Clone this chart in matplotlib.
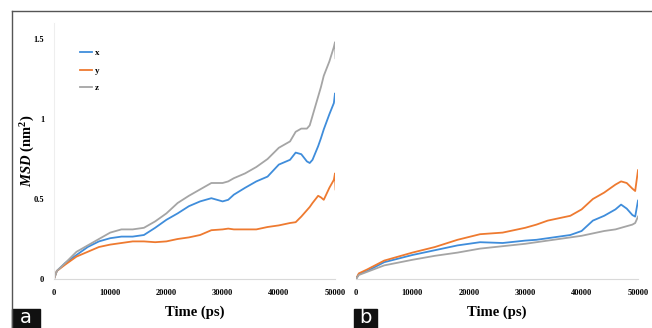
import numpy as np
import matplotlib.pyplot as plt

plt.rcParams['mathtext.fontset'] = 'custom'
plt.rcParams['mathtext.rm'] = 'Liberation Serif'
plt.rcParams['mathtext.it'] = 'Liberation Serif:italic'
plt.rcParams['mathtext.bf'] = 'Liberation Serif:bold'
plt.rcParams['mathtext.bfit'] = 'Liberation Serif:italic:bold'

# MSD along each axis, panel a
t_a = [0, 500, 2000, 4000, 6000, 8000, 10000, 12000, 14000, 16000, 18000, 20000,
       22000, 24000, 26000, 28000, 30000, 31000, 32000, 34000, 36000, 38000, 40000,
       42000, 43000, 44000, 45000, 45500, 46000, 47000, 47500, 48000, 49000, 49800,
       50000, 50100]
x_a = [0, 0.05, 0.10, 0.15, 0.20, 0.235, 0.255, 0.265, 0.265, 0.275, 0.32, 0.37,
       0.41, 0.455, 0.485, 0.505, 0.485, 0.495, 0.527, 0.57, 0.61, 0.64, 0.715,
       0.745, 0.79, 0.78, 0.735, 0.725, 0.745, 0.83, 0.88, 0.935, 1.03, 1.10,
       1.16, 1.12]
y_a = [0, 0.05, 0.09, 0.14, 0.17, 0.20, 0.215, 0.225, 0.235, 0.235, 0.23, 0.235,
       0.25, 0.26, 0.275, 0.305, 0.31, 0.315, 0.31, 0.31, 0.31, 0.325, 0.335,
       0.35, 0.355, 0.39, 0.43, 0.45, 0.475, 0.52, 0.51, 0.495, 0.57, 0.62,
       0.66, 0.56]
z_a = [0, 0.05, 0.10, 0.17, 0.21, 0.25, 0.29, 0.31, 0.31, 0.32, 0.36, 0.41,
       0.475, 0.52, 0.56, 0.60, 0.60, 0.61, 0.63, 0.66, 0.70, 0.75, 0.82,
       0.86, 0.92, 0.94, 0.94, 0.96, 1.02, 1.14, 1.20, 1.27, 1.36, 1.45,
       1.48, 1.38]

# panel b
t_b = [0, 500, 2000, 5000, 10000, 14000, 18000, 22000, 26000, 30000, 32000, 34000,
       36000, 38000, 40000, 42000, 44000, 46000, 47000, 48000, 49000, 49500, 50000]
x_b = [0, 0.03, 0.05, 0.105, 0.15, 0.18, 0.21, 0.23, 0.225, 0.24, 0.245, 0.255,
       0.265, 0.275, 0.30, 0.365, 0.395, 0.435, 0.465, 0.44, 0.40, 0.39, 0.49]
y_b = [0, 0.035, 0.06, 0.115, 0.165, 0.20, 0.245, 0.28, 0.29, 0.32, 0.34, 0.365,
       0.38, 0.395, 0.435, 0.50, 0.54, 0.59, 0.61, 0.60, 0.565, 0.55, 0.68]
z_b = [0, 0.025, 0.045, 0.085, 0.12, 0.145, 0.165, 0.19, 0.205, 0.22, 0.23, 0.24,
       0.25, 0.26, 0.27, 0.285, 0.30, 0.31, 0.32, 0.33, 0.34, 0.35, 0.39]

xticks = [0, 10000, 20000, 30000, 40000, 50000]
yticks = [0, 0.5, 1, 1.5]
yticklabels = ['0', '0.5', '1', '1.5']

blue, orange, gray = '#3f8ddb', '#ee7a30', '#a5a5a5'
serif = 'Liberation Serif'

fig = plt.figure(figsize=(6.52, 3.28), dpi=100)
W, H = 652, 328


def make_axes(x0, x1):
    ax = fig.add_axes([x0 / W, 1 - 279 / H, (x1 - x0) / W, 256 / H])
    ax.set_xlim(0, 50000)
    ax.set_ylim(0, 1.6)
    for s in ['top', 'right']:
        ax.spines[s].set_visible(False)
    ax.spines['bottom'].set_color('#d9d9d9')
    ax.spines['left'].set_color('#eeeeee')
    ax.set_xticks(xticks)
    ax.set_xticklabels([str(v) for v in xticks], fontsize=6, fontweight='bold', family=serif)
    ax.tick_params(length=0, pad=7)
    ax.set_xlabel('Time (ps)', fontsize=10.5, fontweight='bold', family=serif, labelpad=6)
    return ax


ax1 = make_axes(54, 335)
ax1.plot(t_a, x_a, color=blue, lw=1.3, label='x')
ax1.plot(t_a, y_a, color=orange, lw=1.3, label='y')
ax1.plot(t_a, z_a, color=gray, lw=1.3, label='z')
ax1.set_yticks(yticks)
ax1.set_yticklabels(yticklabels, fontsize=6, fontweight='bold', family=serif)
ax1.set_ylabel(r'$\mathbfit{MSD}\ \mathbf{(nm^2)}$', fontsize=10.5)
ax1.yaxis.set_label_coords(-0.06, 0.5)
ax1.legend(loc='upper left', bbox_to_anchor=(0.065, 0.93), frameon=False,
           handlelength=1.3, handletextpad=0.3, labelspacing=1.0,
           prop={'family': serif, 'weight': 'bold', 'size': 6.5})

ax2 = make_axes(356, 638)
ax2.spines['left'].set_visible(False)
ax2.set_yticks([])
ax2.plot(t_b, x_b, color=blue, lw=1.3)
ax2.plot(t_b, y_b, color=orange, lw=1.3)
ax2.plot(t_b, z_b, color=gray, lw=1.3)

# outer frame lines
fig.add_artist(plt.Line2D([12 / W, 1], [1 - 11 / H, 1 - 11 / H], color='#555555', lw=1))
fig.add_artist(plt.Line2D([12 / W, 12 / W], [0, 1 - 11 / H], color='#555555', lw=1))

# panel letters
for x0, x1, s in [(12, 40, 'a'), (354, 377, 'b')]:
    fig.add_artist(plt.Rectangle((x0 / W, 0), (x1 - x0) / W, 19 / H, color='#111111'))
    fig.text((x0 + x1) / 2 / W, 1 / H, s, color='white', fontsize=14,
             ha='center', va='bottom', family='DejaVu Sans')

fig.savefig('out.png', dpi=100)
